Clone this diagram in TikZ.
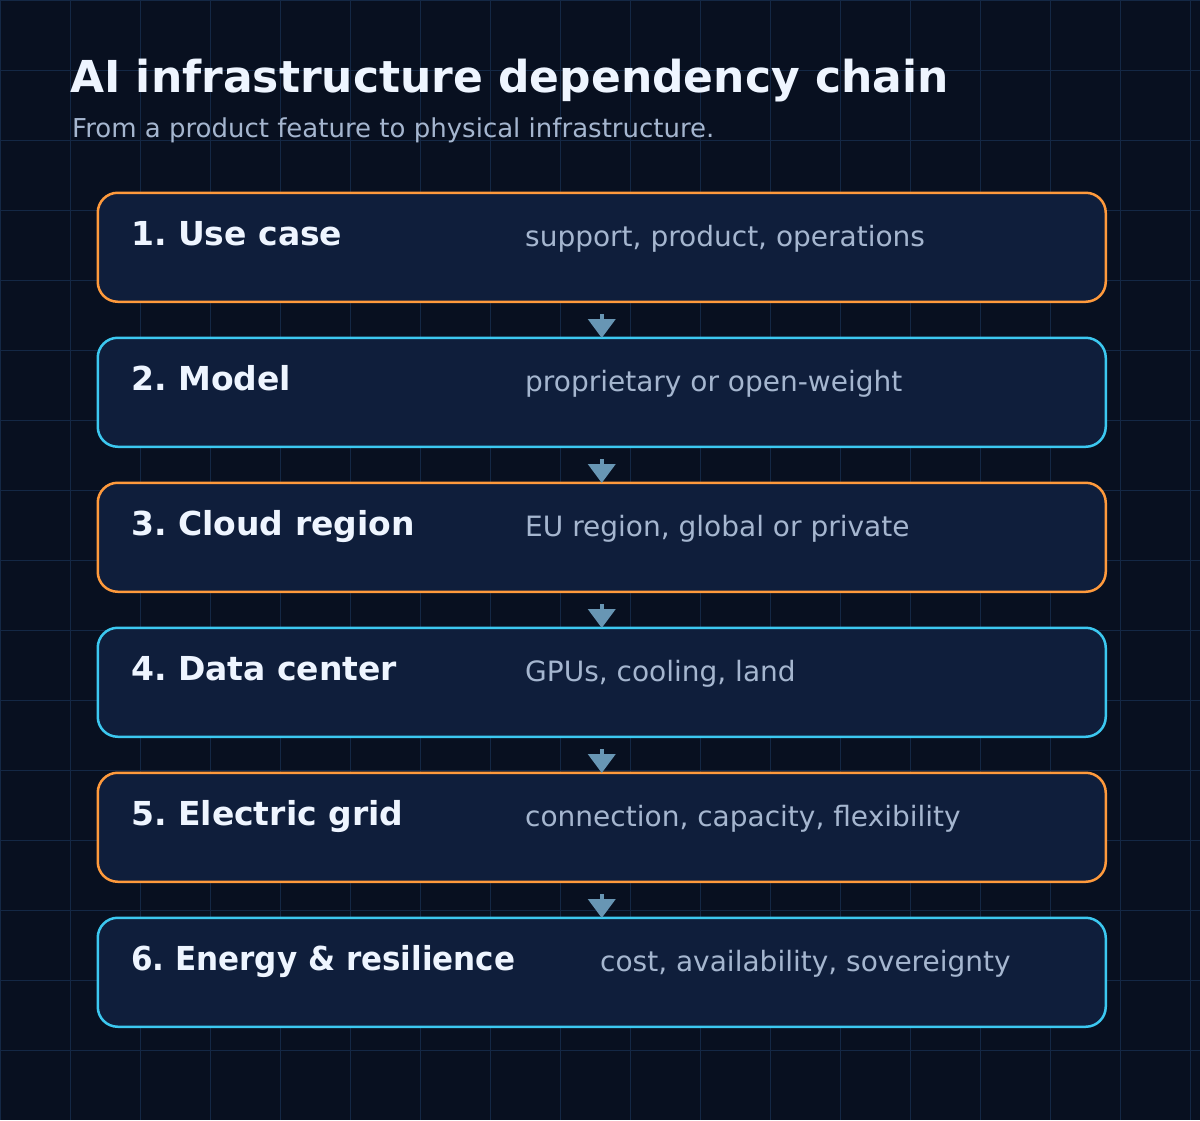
\documentclass[tikz,border=0pt]{standalone}
\usepackage{fontspec}
\setmainfont{DejaVu Sans}
\usetikzlibrary{arrows.meta}
\frenchspacing
\definecolor{bg}{HTML}{081020}
\definecolor{gridc}{HTML}{142845}
\definecolor{boxfill}{HTML}{0F1E3B}
\definecolor{orng}{HTML}{FF9A3C}
\definecolor{cyn}{HTML}{3CC8F0}
\definecolor{titlec}{HTML}{EEF5FF}
\definecolor{mutedc}{HTML}{A5B6CF}
\definecolor{arrc}{HTML}{6896B4}
\tikzset{
  stage/.style={draw=#1, fill=boxfill, line width=2.5pt, rounded corners=20pt,
    rectangle, minimum width=1008pt, minimum height=109pt, inner sep=0pt, anchor=north west},
  lbl/.style={anchor=base west, inner sep=0pt, text=titlec, font=\fontsize{33}{39}\selectfont\bfseries},
  desc/.style={anchor=base west, inner sep=0pt, text=mutedc, font=\fontsize{28}{34}\selectfont},
  link/.style={draw=arrc, line width=4pt, -{Triangle[width=27pt,length=19pt]}},
  gridline/.style={draw=gridc, line width=1pt}
}
\begin{document}
\begin{tikzpicture}[x=1pt,y=-1pt]
\fill[bg] (0,0) rectangle (1200,1120);
\useasboundingbox (0,0) rectangle (1200,1120);
\foreach \i in {0,70,...,1190} {\draw[gridline] (\i,0) -- (\i,1120);}
\foreach \j in {0,70,...,1110} {\draw[gridline] (0,\j) -- (1200,\j);}
\node[anchor=base west, inner sep=0pt, text=titlec, font=\fontsize{44}{52}\selectfont\bfseries] (title) at (70,92) {AI infrastructure dependency chain};
\node[anchor=base west, inner sep=0pt, text=mutedc, font=\fontsize{26}{31}\selectfont] (sub) at (72,137) {From a product feature to physical infrastructure.};
% stages
\node[stage=orng] (b1) at (96.5,191.5) {};
\node[stage=cyn]  (b2) at (96.5,336.5) {};
\node[stage=orng] (b3) at (96.5,481.5) {};
\node[stage=cyn]  (b4) at (96.5,626.5) {};
\node[stage=orng] (b5) at (96.5,771.5) {};
\node[stage=cyn]  (b6) at (96.5,916.5) {};
\node[lbl] (l1) at (131,245) {1. Use case};
\node[desc] (d1) at (525,246.5) {support, product, operations};
\node[lbl] (l2) at (131,390) {2. Model};
\node[desc] (d2) at (525,391.5) {proprietary or open-weight};
\node[lbl] (l3) at (131,535) {3. Cloud region};
\node[desc] (d3) at (525,536.5) {EU region, global or private};
\node[lbl] (l4) at (131,680) {4. Data center};
\node[desc] (d4) at (525,681.5) {GPUs, cooling, land};
\node[lbl] (l5) at (131,825) {5. Electric grid};
\node[desc] (d5) at (525,826.5) {connection, capacity, flexibility};
\node[lbl] (l6) at (131,970) {\scalebox{0.94}[1]{6. Energy \& resilience}};
\node[desc] (d6) at (600,971.5) {cost, availability, sovereignty};
% connectors
\foreach \a/\b in {b1/b2,b2/b3,b3/b4,b4/b5,b5/b6}
  \draw[link] ([yshift=-11pt]\a.south) -- ([yshift=-1.5pt]\b.north);
\end{tikzpicture}
\end{document}
